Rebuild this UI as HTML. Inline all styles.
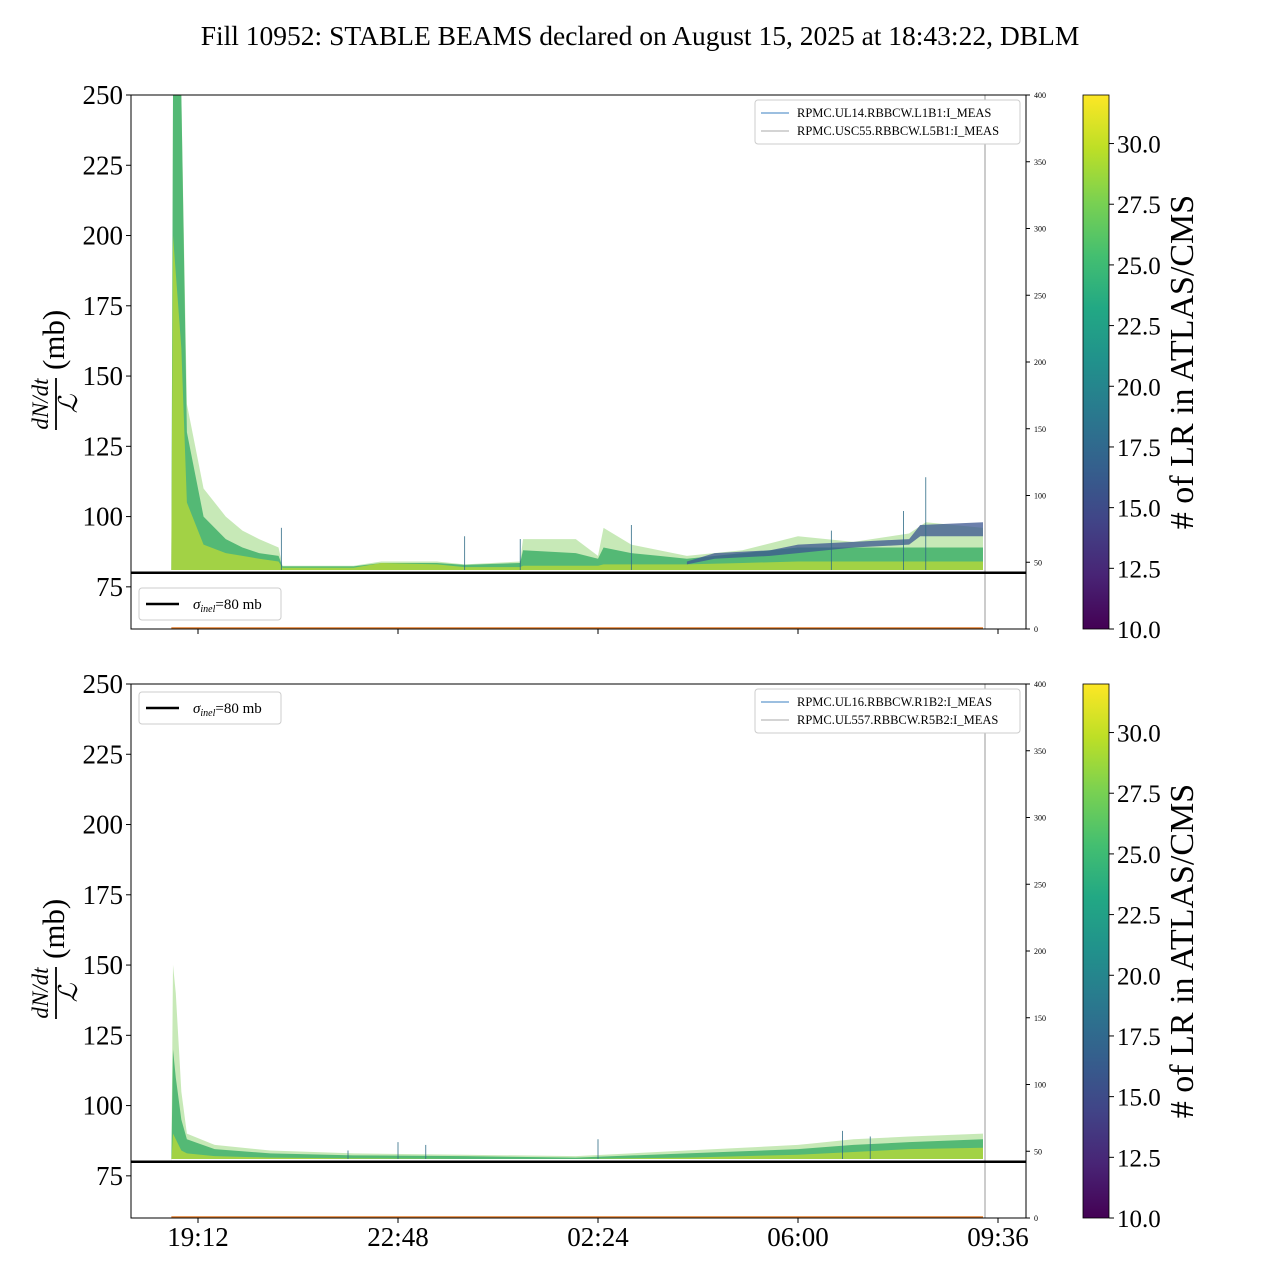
<!DOCTYPE html>
<html><head><meta charset="utf-8"><style>
html,body{margin:0;padding:0;background:#fff;width:1280px;height:1280px;overflow:hidden}
svg text{font-family:"Liberation Serif",serif}
</style></head><body>
<svg id="chart" width="1280" height="1280" xmlns="http://www.w3.org/2000/svg">
<defs>
<linearGradient id="vir" x1="0" y1="1" x2="0" y2="0">
<stop offset="0" stop-color="#440154"/><stop offset="0.1" stop-color="#482475"/><stop offset="0.2" stop-color="#414487"/><stop offset="0.3" stop-color="#355f8d"/><stop offset="0.4" stop-color="#2a788e"/><stop offset="0.5" stop-color="#21918c"/><stop offset="0.6" stop-color="#22a884"/><stop offset="0.7" stop-color="#44bf70"/><stop offset="0.8" stop-color="#7ad151"/><stop offset="0.9" stop-color="#bddf26"/><stop offset="1" stop-color="#fde725"/>
</linearGradient>
</defs>
<text x="640" y="45" font-size="27.5" text-anchor="middle">Fill 10952: STABLE BEAMS declared on August 15, 2025 at 18:43:22, DBLM</text>
</svg>
<script>
// ---- data (hours since Aug 15 00:00) ----
const xTickValues = [19.2, 22.8, 26.4, 30.0, 33.6];
const xTickLabels = ["19:12", "22:48", "02:24", "06:00", "09:36"];
const yTicks = [75, 100, 125, 150, 175, 200, 225, 250];
const rightTicks = [0, 50, 100, 150, 200, 250, 300, 350, 400];
const cbTicks = [10.0, 12.5, 15.0, 17.5, 20.0, 22.5, 25.0, 27.5, 30.0];
const sigmaInel = 80;
const startT = 18.72, endT = 33.33;
// top panel
const topTimes =  [18.72,18.75,18.9,19.0,19.3,19.7,20.0,20.3,20.65,20.72,22.0,22.5,23.5,24.0,25.0,25.05,26.0,26.4,26.5,27.0,27.5,28.0,29.0,30.0,31.0,32.0,32.3,33.33];
const topEnvelope=[81,250,250,140,110,100,95,92,89,82.5,82.5,84,84,83,84,92,92,86,96,90,88,86,88,93,91,94,98,96];
const topCore =   [81,250,250,130,100,92,89,87,86,82.3,82.3,83.5,83.5,82.8,83.5,88,87,85,89,87,86,85,87,89,89,89,89,89];
const topYellow = [81,200,160,105,90,87,86,85,84,81.8,81.8,83.5,83,82,82,82.5,82.5,82.5,83,83,83,83,83.5,84,84,84,84,84];
const blueTimes = [28.0,28.5,29.5,30.0,31.0,32.0,32.2,33.33];
const blueHigh =  [84,87,88,90,91,92,97,98];
const blueLow =   [83,85,86,87,89,90,93,93];
const topSpikeT = [20.7,24.0,25.0,27.0,30.6,31.9,32.3];
const topSpikeV = [96,93,92,97,95,102,114];
// bottom panel
const botTimes =  [18.72,18.75,18.8,18.9,19.0,19.5,20.5,22.0,24.0,26.0,28.0,30.0,31.0,32.0,33.33];
const botEnvelope=[80,150,140,105,90,86,84,83,82.5,82,84,86,88,89,90];
const botCore =   [80,120,110,95,88,84.5,83,82.3,82,81.5,83,84.5,86,87,88];
const botYellow = [80,90,88,84,83,82,81.5,81.2,81,81,81.5,82.5,83.5,84.5,85];
const botSpikeT = [21.9,22.8,23.3,26.4,30.8,31.3];
const botSpikeV = [84,87,86,88,91,89];
const legendTop = ["RPMC.UL14.RBBCW.L1B1:I_MEAS","RPMC.USC55.RBBCW.L5B1:I_MEAS"];
const legendBot = ["RPMC.UL16.RBBCW.R1B2:I_MEAS","RPMC.UL557.RBBCW.R5B2:I_MEAS"];

const NS="http://www.w3.org/2000/svg";
const svg=document.getElementById('chart');
function mk(tag,attrs,parent){const e=document.createElementNS(NS,tag);for(const k in attrs)e.setAttribute(k,attrs[k]);(parent||svg).appendChild(e);return e;}
const X0=131,X1=1026;
const xs=t=>198+(t-19.2)*(200/3.6);
function panel(top,name,times,env,core,yel,spT,spV,legendTexts,sigLegendTop){
  const bottom=top+534;
  const ys=v=>top+(250-v)*(534/190);
  const g=mk('g',{});
  
  
  const clip='clip-'+name;
  const cp=mk('clipPath',{id:clip},g);mk('rect',{x:X0,y:top,width:X1-X0,height:534},cp);
  const dg=mk('g',{'clip-path':'url(#'+clip+')'},g);
  function band(ts,hi,lo,fill,op,nm){
    let p=ts.map((t,i)=>xs(t)+','+ys(hi[i])).join(' ');
    p+=' '+ts.slice().reverse().map((t,i)=>xs(t)+','+ys(lo[ts.length-1-i])).join(' ');
    const e=mk('polygon',{points:p,fill:fill,'fill-opacity':op},dg);
    
    
  }
  const base=times.map(()=>81);
  band(times,env,base,'#8fd470',0.5,'envelope-band');
  band(times,core,base,'#3fb06a',0.85,'core-band');
  band(times,yel,base,'#b5d83a',0.8,'yellow-band');
  if(name==='top-panel'){
    band(blueTimes,blueHigh,blueLow,'#3b5590',0.75,'blue-band');
  }
  spT.forEach((t,i)=>{const l=mk('line',{x1:xs(t),x2:xs(t),y1:ys(81),y2:ys(spV[i]),stroke:'#2e6b86','stroke-width':0.8},dg);
    
    });
  mk('line',{x1:xs(startT),x2:xs(endT),y1:bottom-1,y2:bottom-1,stroke:'#e07b2a','stroke-width':1.5},dg);
  mk('line',{x1:985,x2:985,y1:top,y2:bottom,stroke:'#9a9a9a','stroke-width':1},g);
  const sl=mk('line',{x1:X0,x2:X1,y1:ys(sigmaInel),y2:ys(sigmaInel),stroke:'#000','stroke-width':2.5},g);
  
  
  mk('rect',{x:X0,y:top,width:X1-X0,height:534,fill:'none',stroke:'#000','stroke-width':1},g);
  yTicks.forEach(v=>{mk('line',{x1:X0-5,x2:X0,y1:ys(v),y2:ys(v),stroke:'#000'},g);
    const t=mk('text',{x:X0-8,y:ys(v)+9,'font-size':27,'text-anchor':'end'},g);t.textContent=v;
    });
  xTickValues.forEach((v,i)=>{mk('line',{x1:xs(v),x2:xs(v),y1:bottom,y2:bottom+5,stroke:'#000'},g);
    if(name==='bottom-panel'){const t=mk('text',{x:xs(v),y:bottom+28,'font-size':27,'text-anchor':'middle'},g);t.textContent=xTickLabels[i];
    }});
  rightTicks.forEach(v=>{const y=bottom-v*(534/400);mk('line',{x1:X1,x2:X1+4,y1:y,y2:y,stroke:'#000'},g);
    const t=mk('text',{x:X1+8,y:y+3,'font-size':8},g);t.textContent=v;
    });
  const yl=mk('g',{transform:'translate(58,'+(top+267)+') rotate(-90)'},g);
  
  let t=mk('text',{x:-42,y:-10,'font-size':23,'text-anchor':'middle','font-style':'italic'},yl);t.textContent='dN/dt';
  mk('line',{x1:-68,x2:-16,y1:-2,y2:-2,stroke:'#000','stroke-width':1.8},yl);
  t=mk('text',{x:-42,y:19,'font-size':26,'text-anchor':'middle','font-style':'italic'},yl);t.textContent='ℒ';
  t=mk('text',{x:-8,y:6,'font-size':31},yl);t.textContent=' (mb)';
  const lg=mk('g',{},g);
  mk('rect',{x:755,y:top+5,width:265,height:44,rx:3,fill:'#fff',stroke:'#ccc'},lg);
  const cols=['#3a7fc0','#a8a8a8'];
  legendTexts.forEach((s,i)=>{const y=top+18+i*18;mk('line',{x1:761,x2:789,y1:y,y2:y,stroke:cols[i],'stroke-width':1},lg);
    const tt=mk('text',{x:797,y:y+4,'font-size':12.5},lg);tt.textContent=s;
    });
  const sy=sigLegendTop;
  const sg=mk('g',{},g);
  mk('rect',{x:139,y:sy,width:142,height:32,rx:3,fill:'#fff',stroke:'#ccc'},sg);
  mk('line',{x1:146,x2:179,y1:sy+16,y2:sy+16,stroke:'#000','stroke-width':2.5},sg);
  const st=mk('text',{x:193,y:sy+21,'font-size':15},sg);
  st.innerHTML='<tspan font-style="italic">σ</tspan><tspan font-style="italic" font-size="10" dy="3">inel</tspan><tspan dy="-3">=80 mb</tspan>';
  const cb=mk('g',{},g);
  mk('rect',{x:1083,y:top,width:26,height:534,fill:'url(#vir)',stroke:'#000','stroke-width':0.8},cb);
  const cy=v=>bottom-(v-10)*(534/22);
  cbTicks.forEach(v=>{mk('line',{x1:1109,x2:1114,y1:cy(v),y2:cy(v),stroke:'#000'},cb);
    const tt=mk('text',{x:1117,y:cy(v)+9,'font-size':25},cb);tt.textContent=v.toFixed(1);
    });
  const cl=mk('text',{x:0,y:0,'font-size':34,'text-anchor':'middle',transform:'translate(1193,'+(top+267)+') rotate(-90)'},cb);
  cl.textContent='# of LR in ATLAS/CMS';
  
}
panel(95,'top-panel',topTimes,topEnvelope,topCore,topYellow,topSpikeT,topSpikeV,legendTop,588);
panel(684,'bottom-panel',botTimes,botEnvelope,botCore,botYellow,botSpikeT,botSpikeV,legendBot,692);
</script>
</body></html>
